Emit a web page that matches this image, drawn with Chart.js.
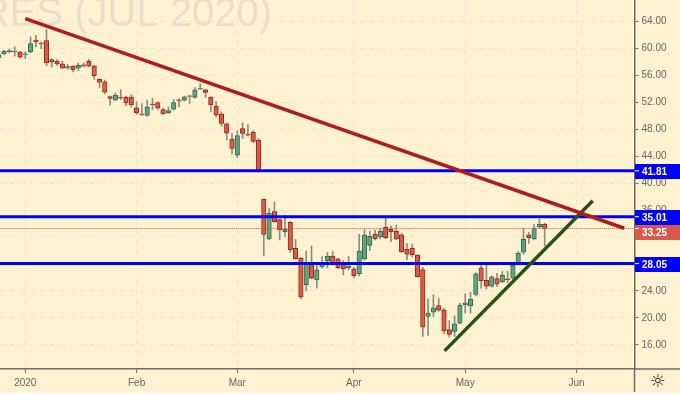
<!DOCTYPE html>
<html>
<head>
<meta charset="utf-8">
<style>
    body { margin: 0; background: #fbf8ec; overflow: hidden; }
    canvas { display: block; background: #fff2d0; }
</style>
<script src="https://cdn.jsdelivr.net/npm/chart.js@4"></script>
</head>
<body>
<canvas id="chart" width="680" height="392"></canvas>
<script>
// candles, first one is 5 trading days before the "2020" tick
const firstDay = -5
const opens = [
    58.57,59.16,59.46,59.55,59.41,59.01,59.46,61.23,60.74,61.13,
    58.32,58.07,57.68,57.09,57.33,57.04,57.53,58.07,57.38,55.41,
    55.01,52.84,52.30,52.74,52.74,52.74,51.16,50.27,50.02,51.70,
    51.95,50.91,50.42,50.96,52.35,52.30,52.94,52.69,53.93,53.83,
    52.74,51.41,50.22,48.79,46.52,44.15,48.10,47.26,47.56,46.37,
    37.63,31.70,35.75,34.57,32.79,34.17,30.32,28.84,24.94,27.85,
    25.63,27.55,28.49,29.18,28.74,27.85,27.45,27.26,26.57,28.74,
    30.76,32.44,32.00,33.43,33.13,32.84,32.30,30.17,30.32,29.33,
    27.16,20.20,20.84,21.83,21.19,18.27,17.98,19.21,21.93,21.78,
    23.46,27.41,25.58,24.69,25.83,25.33,25.78,25.88,28.10,29.73,
    32.30,31.70,33.48,33.88
]
const highs = [
    59.20,59.70,59.90,60.20,59.50,59.46,61.68,61.92,60.94,62.81,
    58.47,58.32,58.07,57.63,57.38,57.83,57.83,58.37,57.48,55.51,
    55.26,52.94,53.38,53.88,52.89,53.14,52.05,51.80,52.30,52.64,
    52.05,51.11,51.31,52.39,52.54,52.89,53.04,54.17,54.77,53.93,
    52.84,52.10,50.57,48.94,47.36,47.76,48.94,48.69,47.76,46.62,
    37.63,36.24,37.23,34.66,35.26,34.27,31.65,28.94,29.92,30.66,
    27.85,29.08,29.73,29.82,28.84,28.49,29.08,27.50,32.39,33.13,
    32.89,33.03,33.28,34.76,33.63,33.77,32.54,31.06,30.96,29.43,
    27.51,22.82,23.41,22.91,21.43,19.61,20.30,22.17,23.56,23.80,
    26.72,27.85,27.85,26.22,26.62,26.86,26.96,28.10,29.83,33.28,
    32.74,33.93,34.62,34.02
]
const lows = [
    58.40,59.06,59.31,58.81,58.52,58.47,59.31,60.20,59.95,57.43,
    57.23,57.43,56.94,56.89,56.49,56.64,57.23,57.23,55.36,54.12,
    53.23,51.55,52.25,52.39,51.46,51.31,50.17,50.02,49.93,50.91,
    50.91,50.17,50.32,50.81,51.31,52.15,51.80,52.59,53.88,52.69,
    50.57,49.83,48.45,46.37,44.30,43.76,46.62,47.01,46.03,41.81,
    29.18,31.55,34.17,31.55,32.05,29.68,28.69,22.81,24.00,25.78,
    24.39,27.36,27.40,27.85,27.31,26.37,27.11,25.97,26.22,28.59,
    29.97,31.55,31.70,31.75,31.31,31.55,29.73,28.59,29.09,26.03,
    17.24,17.38,20.20,20.94,17.63,17.14,17.24,19.11,20.69,20.69,
    23.26,24.40,24.30,24.54,24.64,25.23,25.23,25.73,27.85,29.43,
    31.06,31.56,33.28,30.67
]
const closes = [
    59.06,59.55,59.65,59.50,58.67,59.16,60.69,60.94,60.64,57.83,
    57.97,57.68,57.09,57.28,56.84,57.48,57.33,57.33,55.90,54.96,
    53.48,52.54,53.04,52.59,51.90,51.60,50.42,50.12,51.31,51.60,
    51.11,50.27,50.76,51.95,52.20,52.79,52.84,53.83,54.07,53.43,
    51.60,50.07,48.84,47.41,45.14,47.06,47.36,47.11,46.18,41.81,
    32.39,35.50,34.27,33.03,33.13,30.07,28.79,23.11,28.00,25.87,
    27.11,27.95,29.18,28.00,27.45,27.31,27.70,26.27,29.92,32.29,
    32.10,31.70,32.89,31.90,32.79,31.70,29.83,29.43,29.38,26.12,
    18.62,20.69,21.48,21.14,18.07,17.53,19.11,21.88,22.22,22.77,
    26.52,25.53,24.69,26.07,24.99,26.32,25.68,27.80,29.58,31.65,
    31.90,33.33,33.93,33.25
]

// axis labels
const monthDays = [0, 21, 40, 62, 83, 104]
const monthLabels = ['2020', 'Feb', 'Mar', 'Apr', 'May', 'Jun']
const priceTicks = [64, 60, 56, 52, 48, 44, 40, 36, 32, 28, 24, 20, 16]

// levels and drawn trend lines
const blueLevels = [41.81, 35.01, 28.05]
const lastPrice = 33.25
const redTrendDays = [0, 113]
const redTrendPrices = [64.4, 33.29]
const greenTrendDays = [79.1, 107.06]
const greenTrendPrices = [15.1, 37.38]

const watermark = 'RES (JUL 2020)'
const settingsIcon = '☼'

const days = opens.map((_, i) => firstDay + i)
const isUp = i => closes[i] >= opens[i]

const levelDatasets = blueLevels.map(level => ({
    type: 'line',
    data: [{x: -10, y: level}, {x: 120, y: level}],
    borderColor: '#0000ff',
    borderWidth: 3,
    pointRadius: 0,
    order: 1
}))

const chartDecor = {
    id: 'chartDecor',
    beforeDatasetsDraw(chart) {
        const ctx = chart.ctx
        ctx.save()
        ctx.font = '40px "Liberation Sans"'
        ctx.fillStyle = '#e8e0cb'
        ctx.textAlign = 'right'
        ctx.textBaseline = 'alphabetic'
        ctx.fillText(watermark, 272, 26)
        ctx.restore()
    },
    afterDraw(chart) {
        const ctx = chart.ctx
        const yScale = chart.scales.y
        ctx.save()
        // the axis lines run on into the corner cell
        ctx.strokeStyle = '#6e6e66'
        ctx.lineWidth = 1.5
        ctx.beginPath()
        ctx.moveTo(634.5, 369)
        ctx.lineTo(634.5, 392)
        ctx.moveTo(634.5, 369)
        ctx.lineTo(680, 369)
        ctx.stroke()

        ctx.textAlign = 'left'
        ctx.textBaseline = 'middle'
        ctx.font = 'bold 10px "Liberation Sans"'
        function priceBox(value, color, top, h) {
            ctx.fillStyle = color
            ctx.fillRect(635, top, 45, h)
            ctx.fillStyle = '#fff'
            ctx.fillRect(635, yScale.getPixelForValue(value) - 0.5, 4, 1)
            ctx.fillText(value.toFixed(2), 642, top + h / 2 + 0.5)
        }
        blueLevels.forEach(level => {
            const y = Math.round(yScale.getPixelForValue(level))
            priceBox(level, '#0000ff', y - 7, 15)
        })
        priceBox(lastPrice, '#d9584c', Math.round(yScale.getPixelForValue(35.01)) + 8, 15)

        ctx.font = '18px "DejaVu Sans"'
        ctx.fillStyle = '#222'
        ctx.textAlign = 'center'
        ctx.fillText(settingsIcon, 657.5, 382)
        ctx.restore()
    }
}

new Chart(document.querySelector('#chart').getContext('2d'), {
    data: {
        datasets: [
            ...levelDatasets,
            {
                type: 'line',
                data: [{x: -10, y: lastPrice}, {x: 120, y: lastPrice}],
                borderColor: '#e0493a',
                borderWidth: 1,
                borderDash: [1, 1],
                pointRadius: 0,
                order: 1
            },
            {
                type: 'line',
                data: redTrendDays.map((d, i) => ({x: d, y: redTrendPrices[i]})),
                borderColor: '#b01c1c',
                borderWidth: 3.5,
                pointRadius: 0,
                order: 0
            },
            {
                type: 'line',
                data: greenTrendDays.map((d, i) => ({x: d, y: greenTrendPrices[i]})),
                borderColor: '#2b5016',
                borderWidth: 3.5,
                pointRadius: 0,
                order: 0
            },
            {
                type: 'bar',
                data: days.map((d, i) => ({x: d, y: [Math.min(opens[i], closes[i]), Math.max(opens[i], closes[i])]})),
                backgroundColor: days.map((d, i) => isUp(i) ? '#5fa57f' : '#dc5a48'),
                borderColor: days.map((d, i) => isUp(i) ? '#2f6b4b' : '#8f2a1c'),
                borderWidth: 1,
                borderSkipped: false,
                barThickness: 4.5,
                grouped: false,
                order: 2
            },
            {
                type: 'bar',
                data: days.map((d, i) => ({x: d, y: [lows[i], highs[i]]})),
                backgroundColor: '#8c8c84',
                barThickness: 1,
                grouped: false,
                order: 3
            }
        ]
    },
    options: {
        responsive: false,
        animation: false,
        events: [],
        layout: {padding: 0},
        plugins: {legend: {display: false}, tooltip: {enabled: false}},
        scales: {
            x: {
                type: 'linear',
                offset: false,
                min: -4.77,
                max: 114.94,
                afterFit: scale => {
                    scale.height = 23
                    scale.paddingLeft = 0
                    scale.paddingRight = 0
                },
                afterBuildTicks: scale => { scale.ticks = monthDays.map(v => ({value: v})) },
                grid: {color: '#e8e5d8', tickColor: '#6e6e66', tickLength: 4, offset: false},
                border: {color: '#6e6e66', width: 1.5, dash: [5, 5]},
                ticks: {
                    color: '#666',
                    font: {family: '"Liberation Sans"', size: 10},
                    padding: 4,
                    maxRotation: 0,
                    autoSkip: false,
                    callback: value => monthLabels[monthDays.indexOf(value)]
                }
            },
            y: {
                type: 'linear',
                position: 'right',
                min: 12.41,
                max: 67.16,
                afterFit: scale => {
                    scale.width = 45.5
                    scale.paddingTop = 0
                    scale.paddingBottom = 0
                },
                afterBuildTicks: scale => { scale.ticks = priceTicks.map(v => ({value: v})) },
                grid: {color: '#e8e5d8', tickColor: '#6e6e66', tickLength: 4},
                border: {color: '#6e6e66', width: 1.5, dash: [5, 5]},
                ticks: {
                    color: '#666',
                    font: {family: '"Liberation Sans"', size: 10},
                    padding: 3,
                    autoSkip: false,
                    callback: value => value.toFixed(2)
                }
            }
        }
    },
    plugins: [chartDecor]
})
</script>
</body>
</html>
